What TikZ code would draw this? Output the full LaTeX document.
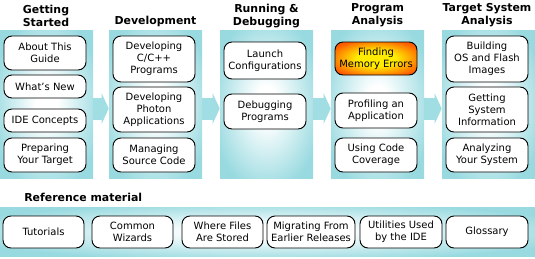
\documentclass[tikz,border=0pt]{standalone}
\usepackage{fontspec}
\setmainfont{DejaVu Sans}
\usetikzlibrary{arrows.meta,positioning}
\definecolor{panelcyan}{RGB}{152,218,224}
\definecolor{arrowcyan}{RGB}{160,222,228}
\definecolor{hotyellow}{RGB}{255,236,0}
\definecolor{hotorange}{RGB}{255,92,0}
\pgfdeclareradialshading{panelglow}{\pgfpoint{0bp}{0bp}}{color(0bp)=(white); color(6bp)=(white); color(30bp)=(panelcyan); color(50bp)=(panelcyan)}
\pgfdeclareradialshading{hotspot}{\pgfpoint{0bp}{0bp}}{color(0bp)=(hotyellow); color(12bp)=(hotyellow); color(30bp)=(hotorange); color(50bp)=(hotorange)}

\begin{document}
\begin{tikzpicture}[
    x=0.75pt, y=-0.75pt,
    every node/.style={align=center, font=\fontsize{7.5}{9}\selectfont},
    wh/.style 2 args={minimum width=#1*0.75pt, minimum height=#2*0.75pt},
    panel/.style={rectangle, inner sep=0pt, shade, shading=panelglow},
    topic/.style={rectangle, rounded corners=6pt, draw=black, line width=0.7pt, fill=white, inner sep=1pt},
    hot/.style={topic, shade, shading=hotspot},
    heading/.style={font=\fontsize{8.2}{9.75}\selectfont\bfseries, inner sep=0pt},
    flow/.style={color=arrowcyan, line width=16.5pt, -{Triangle[length=5.25pt, width=22.5pt]}}
]
\useasboundingbox (0,0) rectangle (535,258);

% Getting Started
\node[panel, wh={93}{148}] (started) at (46.5,104) {};
\node[heading] (startedhd) at (46,15.5) {Getting\\Started};
\node[topic, wh={82}{34}] (about) at (45,53) {About This\\Guide};
\node[topic, wh={82}{23}] (whatsnew) at (45,86.5) {What's New};
\node[topic, wh={82}{23}] (concepts) at (45,120.5) {IDE Concepts};
\node[topic, wh={82}{34}] (preparing) at (45,155) {Preparing\\Your Target};

% Development
\node[panel, wh={93}{148}] (develop) at (155.5,104) {};
\node[heading] (develophd) at (155.5,21.5) {Development};
\node[topic, wh={82}{46}] (cprog) at (154,59) {Developing\\C/C++\\Programs};
\node[topic, wh={82}{45}] (photon) at (154,109.5) {Developing\\Photon\\Applications};
\node[topic, wh={82}{34}] (source) at (154,155) {Managing\\Source Code};

% Running & Debugging
\node[panel, wh={93}{148}] (running) at (266.5,104) {};
\node[heading] (runninghd) at (266.5,16) {Running \&\\Debugging};
\node[topic, wh={82}{37}] (launch) at (265,60.5) {Launch\\Configurations};
\node[topic, wh={82}{35}] (debugging) at (265,111.5) {Debugging\\Programs};

% Program Analysis
\node[panel, wh={93}{148}] (analysis) at (377.5,104) {};
\node[heading] (analysishd) at (377.5,15.5) {Program\\Analysis};
\node[hot, wh={82}{33}] (memory) at (376,58.5) {Finding\\Memory Errors};
\node[topic, wh={82}{35}] (profiling) at (376,110.5) {Profiling an\\Application};
\node[topic, wh={82}{34}] (coverage) at (376,155) {Using Code\\Coverage};

% Target System Analysis
\node[panel, wh={93}{148}] (target) at (488.5,104) {};
\node[heading] (targethd) at (487,15.5) {Target System\\Analysis};
\node[topic, wh={82}{46}] (images) at (487,59) {Building\\OS and Flash\\Images};
\node[topic, wh={82}{45}] (sysinfo) at (487,109.5) {Getting\\System\\Information};
\node[topic, wh={82}{34}] (analyzing) at (487,155) {Analyzing\\Your System};

% Flow between stages
\draw[flow] ([yshift=-3.4pt]started.east) -- ([yshift=-3.4pt]develop.west);
\draw[flow] ([yshift=-3.4pt]develop.east) -- ([yshift=-3.4pt]running.west);
\draw[flow] ([yshift=-3.4pt]running.east) -- ([yshift=-3.4pt]analysis.west);
\draw[flow] ([yshift=-3.4pt]analysis.east) -- ([yshift=-3.4pt]target.west);

% Reference material
\node[heading, anchor=west] (referencehd) at (24,197) {Reference material};
\node[panel, wh={535}{49}] (refband) at (267.5,231.5) {};
\node[topic, wh={81}{32}] (tutorials) at (43.5,232) {Tutorials};
\node[topic, wh={81}{32}] (wizards) at (132.5,232) {Common\\Wizards};
\node[topic, wh={81}{32}] (stored) at (222.5,232) {Where Files\\Are Stored};
\node[topic, wh={88}{32}] (migrating) at (311,232) {Migrating From\\Earlier Releases};
\node[topic, wh={82}{32}] (utilities) at (401,232) {Utilities Used\\by the IDE};
\node[topic, wh={82}{32}] (glossary) at (487,232) {Glossary};

\end{tikzpicture}
\end{document}
